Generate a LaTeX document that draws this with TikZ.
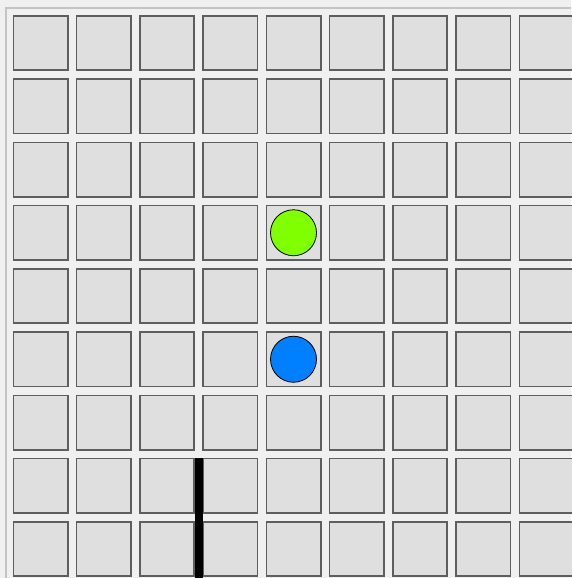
\documentclass[tikz,border=0pt]{standalone}
\usetikzlibrary{positioning}
\definecolor{bgc}{HTML}{F0F0F0}
\definecolor{cellfill}{HTML}{DFDFDF}
\definecolor{celledge}{HTML}{5E5E5E}
\definecolor{framec}{HTML}{C4C4C4}
\definecolor{greenc}{HTML}{80FF00}
\definecolor{bluec}{HTML}{0080FF}
\tikzset{
  cell/.style={draw=celledge, fill=cellfill, line width=1.6pt, minimum size=54.4pt, inner sep=0pt, outer sep=0pt},
  piece/.style={circle, draw=black, line width=0.8pt, minimum size=46pt, inner sep=0pt},
  wall/.style={line width=8pt, black}
}
\begin{document}
\begin{tikzpicture}[x=1pt,y=-1pt]
\useasboundingbox (0,0) rectangle (571,578);
\fill[bgc] (0,0) rectangle (571,578);
\draw[framec, line width=1.5pt] (6,578) -- (6,8) -- (571,8);
\foreach \i in {0,...,8}{
  \foreach \j in {0,...,8}{
    \node[cell] (c-\i-\j) at ({40.5+63.25*\i},{43+63.25*\j}) {};
  }
}
\node[piece, fill=greenc] (green) at (c-4-3) {};
\node[piece, fill=bluec] (blue) at (c-4-5) {};
\coordinate (w1) at (198.7,458);
\coordinate (w2) at (198.7,578);
\draw[wall] (w1) -- (w2);
\end{tikzpicture}
\end{document}
